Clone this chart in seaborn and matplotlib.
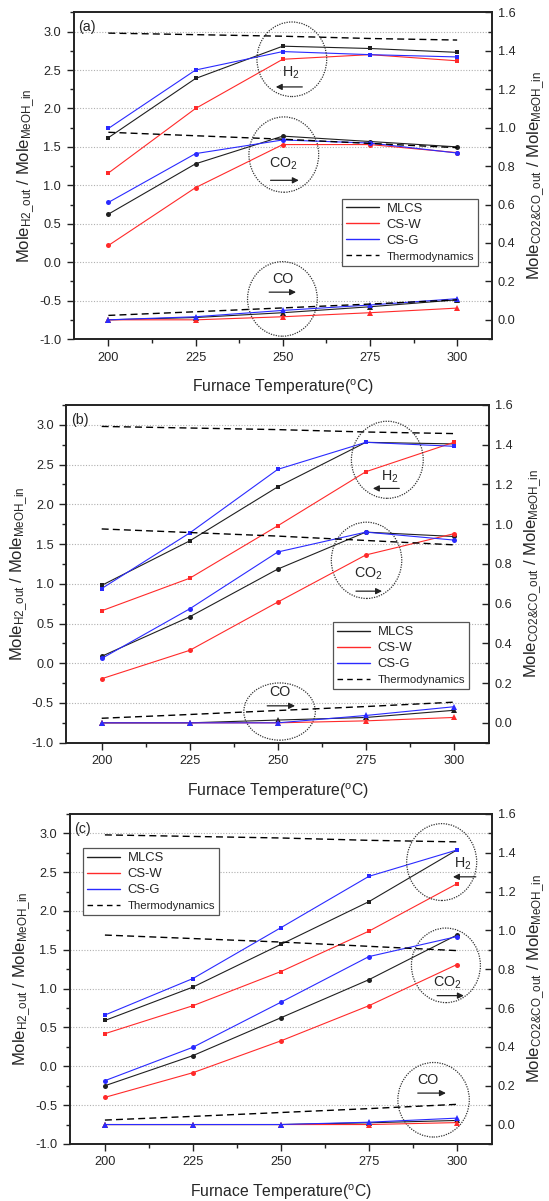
import matplotlib
matplotlib.use('Agg')
import matplotlib.pyplot as plt
import seaborn as sns
from matplotlib.patches import Ellipse
from matplotlib.lines import Line2D
from matplotlib.ticker import MultipleLocator, FormatStrFormatter

# ---------------- data ----------------
temps = [200, 225, 250, 275, 300]
catalysts = ['MLCS', 'CS-W', 'CS-G']
panel_labels = ['(a)', '(b)', '(c)']

# Panel (a)  H2 on left axis, CO2 / CO on right axis
a_h2_mlcs = [1.62, 2.39, 2.81, 2.78, 2.73]
a_h2_csw = [1.16, 2.00, 2.64, 2.70, 2.62]
a_h2_csg = [1.74, 2.50, 2.74, 2.70, 2.67]
a_co2_mlcs = [0.550, 0.812, 0.956, 0.928, 0.900]
a_co2_csw = [0.387, 0.688, 0.912, 0.912, 0.870]
a_co2_csg = [0.611, 0.865, 0.936, 0.920, 0.868]
a_co_mlcs = [0.000, 0.012, 0.037, 0.068, 0.104]
a_co_csw = [0.000, 0.000, 0.016, 0.037, 0.061]
a_co_csg = [0.000, 0.016, 0.049, 0.077, 0.110]

# Panel (b)
b_h2_mlcs = [0.98, 1.54, 2.22, 2.78, 2.76]
b_h2_csw = [0.66, 1.07, 1.73, 2.41, 2.78]
b_h2_csg = [0.94, 1.64, 2.44, 2.78, 2.73]
b_co2_mlcs = [0.335, 0.534, 0.774, 0.960, 0.938]
b_co2_csw = [0.222, 0.365, 0.608, 0.845, 0.952]
b_co2_csg = [0.324, 0.574, 0.860, 0.960, 0.920]
b_co_mlcs = [0.000, 0.000, 0.014, 0.027, 0.063]
b_co_csw = [0.000, 0.000, 0.000, 0.010, 0.027]
b_co_csg = [0.000, 0.000, 0.000, 0.037, 0.081]

# Panel (c)
c_h2_mlcs = [0.59, 1.02, 1.57, 2.12, 2.785]
c_h2_csw = [0.42, 0.78, 1.22, 1.74, 2.35]
c_h2_csg = [0.66, 1.13, 1.785, 2.446, 2.785]
c_co2_mlcs = [0.200, 0.355, 0.550, 0.746, 0.976]
c_co2_csw = [0.140, 0.267, 0.431, 0.612, 0.824]
c_co2_csg = [0.226, 0.398, 0.630, 0.865, 0.968]
c_co_mlcs = [0.000, 0.000, 0.000, 0.009, 0.021]
c_co_csw = [0.000, 0.000, 0.000, 0.000, 0.010]
c_co_csg = [0.000, 0.000, 0.000, 0.012, 0.033]

# Thermodynamic equilibrium (same in all panels)
thermo_h2 = [2.98, 2.96, 2.94, 2.91, 2.89]
thermo_co2 = [0.976, 0.958, 0.940, 0.918, 0.896]
thermo_co = [0.023, 0.042, 0.062, 0.082, 0.104]

panels_h2 = [[a_h2_mlcs, a_h2_csw, a_h2_csg],
             [b_h2_mlcs, b_h2_csw, b_h2_csg],
             [c_h2_mlcs, c_h2_csw, c_h2_csg]]
panels_co2 = [[a_co2_mlcs, a_co2_csw, a_co2_csg],
              [b_co2_mlcs, b_co2_csw, b_co2_csg],
              [c_co2_mlcs, c_co2_csw, c_co2_csg]]
panels_co = [[a_co_mlcs, a_co_csw, a_co_csg],
             [b_co_mlcs, b_co_csw, b_co_csg],
             [c_co_mlcs, c_co_csw, c_co_csg]]

# ---------------- style ----------------
sns.set_theme(style='ticks')
plt.rcParams['font.family'] = ['Liberation Sans', 'DejaVu Sans']
plt.rcParams['mathtext.fontset'] = 'custom'
plt.rcParams['mathtext.rm'] = 'Liberation Sans'
plt.rcParams['mathtext.it'] = 'Liberation Sans:italic'
plt.rcParams['mathtext.bf'] = 'Liberation Sans:bold'

colors = ['#202020', '#ff2a2a', '#2a2aff']

fig = plt.figure(figsize=(5.49, 12.01), dpi=100)
axes_pos = [[0.1339, 0.7177, 0.7623, 0.2720],
            [0.1211, 0.3816, 0.7698, 0.2812],
            [0.1270, 0.0475, 0.7692, 0.2748]]

# annotation layout: (label, ellipse center x, y(left units), width, height, text xy, arrow from, arrow to)
annot = [
    [('H$_\\mathrm{2}$', 252.6, 2.64, 20, 0.97, (252.3, 2.47), (255.6, 2.28), (248.0, 2.28)),
     ('CO$_\\mathrm{2}$', 250.3, 1.40, 20, 0.98, (250.3, 1.28), (246.5, 1.065), (254.6, 1.065)),
     ('CO', 249.9, -0.478, 20, 0.97, (250.0, -0.22), (246.1, -0.39), (253.8, -0.39))],
    [('H$_\\mathrm{2}$', 281.1, 2.56, 20.4, 0.97, (281.9, 2.35), (284.5, 2.20), (277.0, 2.20)),
     ('CO$_\\mathrm{2}$', 275.2, 1.295, 20, 0.96, (275.8, 1.13), (272.2, 0.907), (279.6, 0.907)),
     ('CO', 250.5, -0.608, 20.3, 0.72, (250.5, -0.365), (247.0, -0.536), (254.9, -0.536))],
    [('H$_\\mathrm{2}$', 295.7, 2.63, 19.9, 0.99, (301.7, 2.61), (305.4, 2.44), (298.9, 2.44)),
     ('CO$_\\mathrm{2}$', 296.9, 1.30, 19.6, 0.96, (297.4, 1.08), (294.4, 0.91), (302.0, 0.91)),
     ('CO', 293.4, -0.431, 20.3, 0.96, (291.9, -0.174), (288.9, -0.345), (296.9, -0.345))],
]

legend_loc = [dict(loc='lower right', bbox_to_anchor=(0.967, 0.224)),
              dict(loc='lower right', bbox_to_anchor=(0.953, 0.158)),
              dict(loc='upper left', bbox_to_anchor=(0.032, 0.896))]

left_label = 'Mole$_{\\mathrm{H2\\_out}}$ / Mole$_{\\mathrm{MeOH\\_in}}$'
right_label = 'Mole$_{\\mathrm{CO2&CO\\_out}}$ / Mole$_{\\mathrm{MeOH\\_in}}$'
x_label = 'Furnace Temperature($^{\\mathrm{o}}$C)'

for p in range(3):
    ax = fig.add_axes(axes_pos[p])
    ax2 = ax.twinx()

    # grid on left axis
    ax.yaxis.grid(True, linestyle=(0, (1, 1.5)), color='#b0b0b0', linewidth=0.8)
    ax.set_axisbelow(True)

    # H2 (left axis)
    for i in range(3):
        sns.lineplot(x=temps, y=panels_h2[p][i], ax=ax, color=colors[i],
                     marker='s', markersize=3.4, markeredgewidth=0,
                     linewidth=0.8, legend=False)
    sns.lineplot(x=temps, y=thermo_h2, ax=ax, color='black',
                 linestyle=(0, (5, 3)), linewidth=1.0, legend=False)

    # CO2 and CO (right axis)
    for i in range(3):
        sns.lineplot(x=temps, y=panels_co2[p][i], ax=ax2, color=colors[i],
                     marker='o', markersize=3.6, markeredgewidth=0,
                     linewidth=0.8, legend=False)
    for i in range(3):
        sns.lineplot(x=temps, y=panels_co[p][i], ax=ax2, color=colors[i],
                     marker='^', markersize=4.2, markeredgewidth=0,
                     linewidth=0.8, legend=False)
    sns.lineplot(x=temps, y=thermo_co2, ax=ax2, color='black',
                 linestyle=(0, (5, 3)), linewidth=1.0, legend=False)
    sns.lineplot(x=temps, y=thermo_co, ax=ax2, color='black',
                 linestyle=(0, (5, 3)), linewidth=1.0, legend=False)

    # ticks & limits
    ax.set_xticks(temps)
    ax.xaxis.set_minor_locator(MultipleLocator(12.5))
    ax.yaxis.set_major_locator(MultipleLocator(0.5))
    ax.yaxis.set_minor_locator(MultipleLocator(0.25))
    ax2.yaxis.set_major_locator(MultipleLocator(0.2))
    ax2.yaxis.set_minor_locator(MultipleLocator(0.1))
    ax.set_xlim(190, 310)
    ax.set_ylim(-1.0, 3.25)
    ax2.set_ylim(-0.1, 1.6)
    ax.yaxis.set_major_formatter(FormatStrFormatter('%.1f'))
    ax2.yaxis.set_major_formatter(FormatStrFormatter('%.1f'))

    ax.tick_params(axis='both', which='major', direction='out', length=5,
                   width=1.0, labelsize=9.2, color='#222222', top=False, pad=4)
    ax.tick_params(axis='both', which='minor', direction='out', length=3,
                   width=1.0, color='#222222', top=False)
    ax2.tick_params(axis='y', which='major', direction='in', length=5,
                    width=1.0, labelsize=9.2, color='#222222', pad=4)
    ax2.tick_params(axis='y', which='minor', direction='in', length=3,
                    width=1.0, color='#222222')

    for a in (ax, ax2):
        for s in a.spines.values():
            s.set_linewidth(1.2)
            s.set_color('#222222')
            s.set_visible(True)

    ax.set_xlabel(x_label, fontsize=11.3, labelpad=10)
    ax.set_ylabel(left_label, fontsize=12, labelpad=1.5)
    ax2.set_ylabel(right_label, fontsize=12, labelpad=7)

    # panel label
    ax.text(0.01, 0.977, panel_labels[p], transform=ax.transAxes,
            fontsize=10.3, ha='left', va='top')

    # ellipses, labels, arrows
    for (lab, cx, cy, w, h, txy, afrom, ato) in annot[p]:
        e = Ellipse((cx, cy), w, h, fill=False, edgecolor='#333333',
                    linestyle=(0, (1, 1)), linewidth=0.9, zorder=5)
        ax.add_patch(e)
        ax.text(txy[0], txy[1], lab, fontsize=10.3, ha='center', va='center',
                zorder=6)
        ax.annotate('', xy=ato, xytext=afrom,
                    arrowprops=dict(arrowstyle='-|>', color='#222222', lw=0.9,
                                    mutation_scale=9, shrinkA=0, shrinkB=0),
                    zorder=6)

    # legend
    handles = [Line2D([], [], color=colors[0], lw=1.0),
               Line2D([], [], color=colors[1], lw=1.0),
               Line2D([], [], color=colors[2], lw=1.0),
               Line2D([], [], color='black', lw=1.0, linestyle=(0, (4, 3)))]
    leg = ax2.legend(handles, ['MLCS', 'CS-W', 'CS-G', 'Thermodynamics'],
                     frameon=True, fancybox=False, edgecolor='#555555',
                     framealpha=1.0, fontsize=9.4, handlelength=2.5,
                     handletextpad=0.6, borderpad=0.3, labelspacing=0.3,
                     borderaxespad=0.0, **legend_loc[p])
    leg.get_frame().set_linewidth(0.9)
    leg.get_texts()[3].set_fontsize(8.2)

fig.savefig('out.png', dpi=100)
